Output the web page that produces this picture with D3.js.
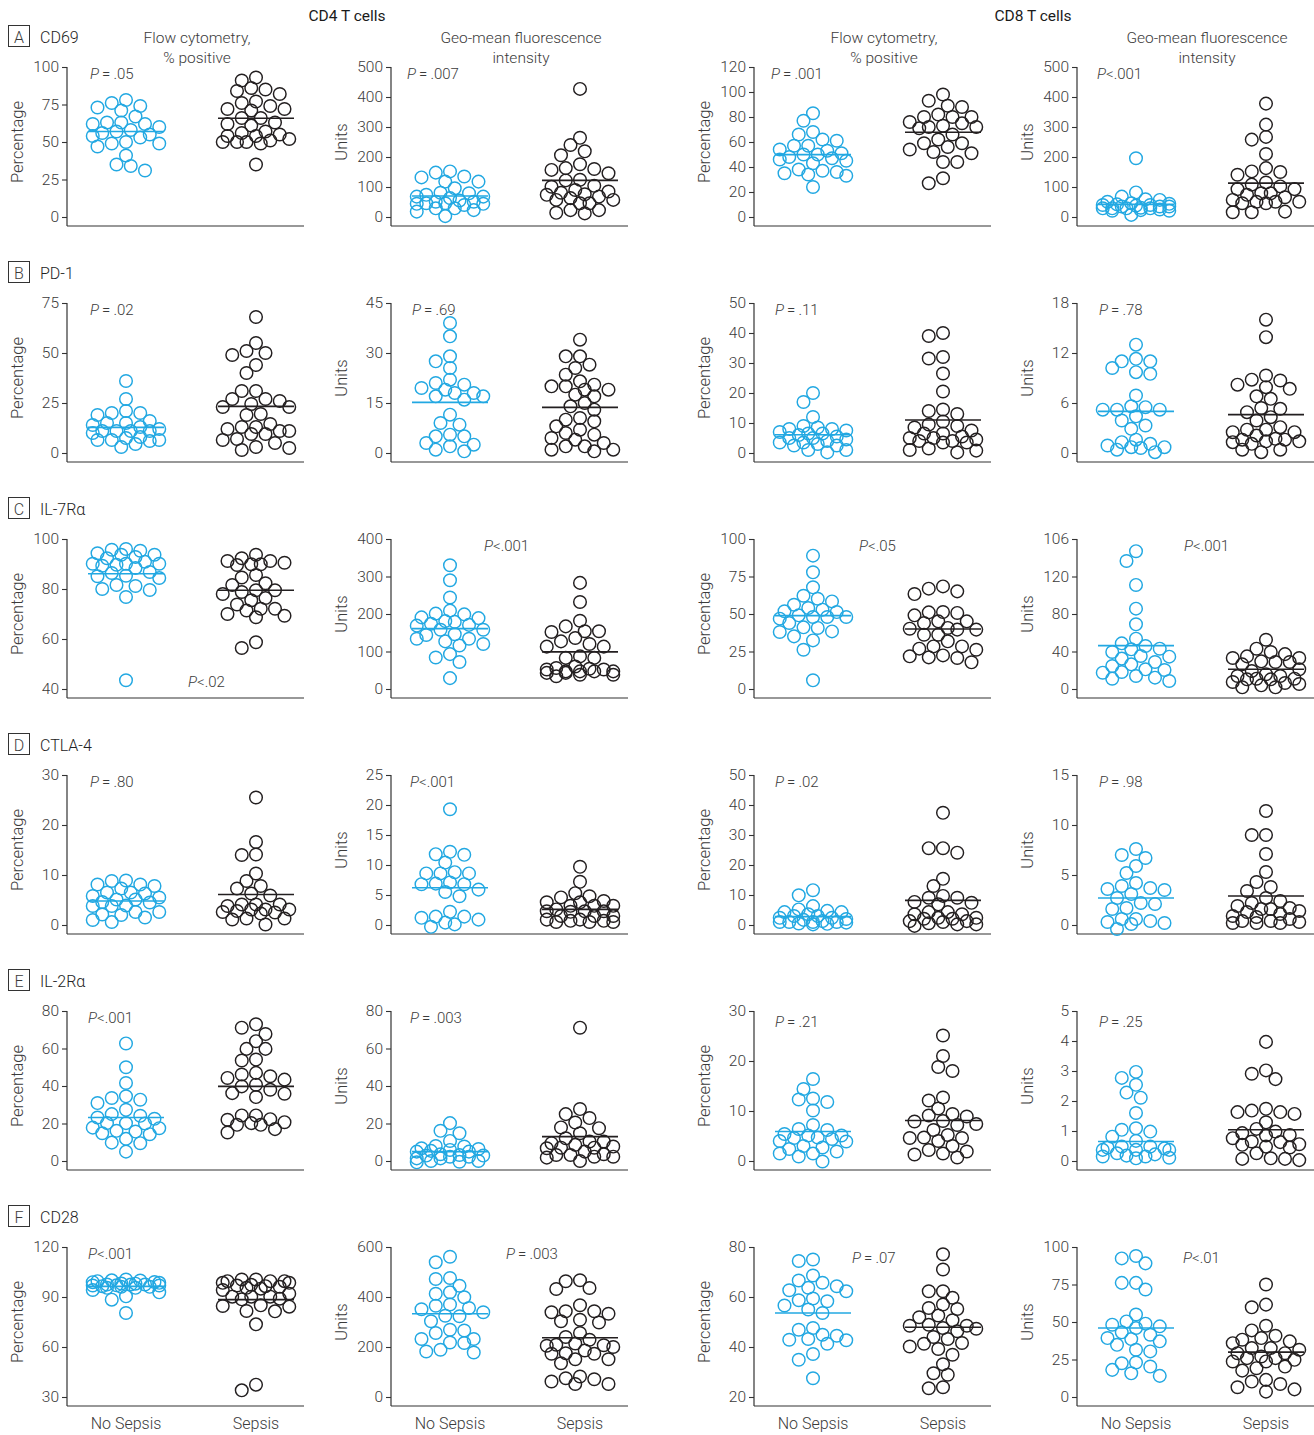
<!DOCTYPE html>
<html>
<head>
<meta charset="utf-8">
<script src="https://cdn.jsdelivr.net/npm/d3@7"></script>
<style>
  html, body { margin: 0; padding: 0; background: #fff; }
  svg { display: block; }
  text { font-family: "Roboto", "Liberation Sans", sans-serif; fill: #3b3b3b; }
</style>
</head>
<body>
<svg id="chart" width="1314" height="1435"></svg>
<script>
// ---- categories and labels ----
const groups = ["No Sepsis", "Sepsis"];
const cellTypes = ["CD4 T cells", "CD8 T cells"];
const measureTitles = [["Flow cytometry,", "% positive"], ["Geo-mean fluorescence", "intensity"]];
const measureUnits = ["Percentage", "Units"];
const markers = ["CD69", "PD-1", "IL-7R\u03b1", "CTLA-4", "IL-2R\u03b1", "CD28"];
const rowLetters = ["A", "B", "C", "D", "E", "F"];

// ---- CD69 ----
const cd69_cd4Pct_noSepsis = [78, 74, 73, 71, 76, 67, 63, 63, 62, 62, 60, 58, 57, 56, 55, 54, 53, 50, 49, 49, 47, 41, 35, 34, 31];
const cd69_cd4Pct_sepsis = [93, 91, 86, 85, 84, 82, 77, 76, 74, 72, 72, 71, 66, 66, 63, 62, 61, 57, 56, 55, 54, 54, 52, 51, 50, 50, 50, 49, 35];
const cd69_cd4Mfi_noSepsis = [152, 148, 135, 132, 118, 118, 96, 81, 79, 74, 68, 68, 63, 55, 51, 51, 46, 46, 44, 44, 40, 29, 29, 23, 18, 3];
const cd69_cd4Mfi_sepsis = [427, 264, 240, 219, 206, 176, 163, 160, 157, 146, 124, 122, 104, 101, 90, 85, 81, 76, 74, 68, 63, 57, 57, 46, 46, 23, 23, 14, 12];
const cd69_cd8Pct_noSepsis = [83, 77, 68, 66, 62, 61, 57, 57, 54, 53, 51, 50, 50, 48, 47, 46, 45, 43, 38, 37, 36, 35, 34, 33, 24];
const cd69_cd8Pct_sepsis = [98, 93, 89, 88, 82, 80, 80, 80, 76, 75, 73, 72, 72, 71, 66, 62, 59, 59, 56, 54, 52, 51, 44, 44, 31, 27];
const cd69_cd8Mfi_noSepsis = [196, 82, 68, 59, 57, 51, 46, 44, 42, 40, 40, 38, 35, 35, 35, 31, 29, 29, 29, 29, 25, 23, 21, 21, 7];
const cd69_cd8Mfi_sepsis = [378, 308, 267, 258, 210, 163, 152, 150, 141, 115, 108, 102, 93, 93, 79, 79, 74, 66, 57, 51, 51, 51, 46, 46, 18, 16, 16];

// ---- PD-1 ----
const pd1_cd4Pct_noSepsis = [36, 27, 21, 20, 20, 19, 16, 15, 15, 14, 13, 12, 11, 11, 11, 11, 10, 8, 7.5, 6.5, 6.5, 6.5, 6, 4.5, 3];
const pd1_cd4Pct_sepsis = [68, 55, 51, 50, 49, 44, 40, 31, 31, 27, 27, 26, 24.5, 23, 23, 19.5, 19, 14.5, 13, 13, 12, 11, 11, 9.5, 9.5, 7, 6.5, 5, 3, 2.5, 1.5];
const pd1_cd4Mfi_noSepsis = [39, 35, 29, 27.5, 25.5, 22, 21, 20.5, 19.5, 19, 18, 18, 17, 17, 16, 11.5, 9, 8.5, 5.5, 5, 5, 3, 2.5, 2, 1, 0.5];
const pd1_cd4Mfi_sepsis = [34, 29, 29, 26.5, 25.5, 23.5, 21.5, 20.5, 20, 20, 19, 19, 17.5, 17, 15, 14, 13, 10.5, 10, 9.5, 8, 7, 6, 5.5, 4.5, 4, 3, 2, 2, 1, 1, 0.5];
const pd1_cd8Pct_noSepsis = [20, 17, 12, 9, 8.5, 8, 8, 7.5, 7, 6.5, 6.5, 6, 5.5, 5, 5, 4.5, 4, 3.5, 3.5, 3, 2.5, 2.5, 1, 1, 0.2];
const pd1_cd8Pct_sepsis = [40, 39, 32, 31.5, 26.5, 20.5, 14.5, 14, 13, 10.5, 9.5, 9, 8.5, 7.5, 6.5, 6.5, 5.5, 5, 5, 4.5, 4, 4, 3.5, 3.5, 1.5, 1, 0.8, 0.2];
const pd1_cd8Mfi_noSepsis = [13, 11.3, 11, 11, 10.2, 9.7, 9.5, 6.9, 5.6, 5.5, 5.2, 5.2, 5.2, 4.4, 3.9, 3.3, 2.9, 1.6, 1.3, 1.1, 0.9, 0.7, 0.7, 0.6, 0.4, 0.1];
const pd1_cd8Mfi_sepsis = [16, 13.9, 9.3, 8.8, 8.7, 8.2, 7.9, 7.7, 6.8, 6.5, 5.4, 5.3, 4.9, 4.3, 3.9, 3.1, 2.8, 2.8, 2.5, 2.5, 2.1, 1.7, 1.6, 1.6, 1.4, 1.4, 1.3, 1.1, 0.4, 0.4, 0.1];

// ---- IL-7Rα ----
const il7r_cd4Pct_noSepsis = [96, 95.7, 95.3, 94.3, 93.7, 93.7, 92.8, 92.3, 90.9, 90.1, 90.1, 90.1, 89.7, 89.3, 88.4, 86.8, 86.4, 85.3, 85.1, 84.4, 81.6, 81.2, 80, 79.6, 76.8, 43.5];
const il7r_cd4Pct_sepsis = [93.7, 92.3, 91.2, 91.2, 90.5, 89.9, 89.9, 89.6, 85.6, 84.6, 82.3, 81.6, 79.5, 79.5, 78.8, 78, 76.4, 75.5, 73.8, 72.1, 72.1, 71.4, 70, 69.3, 68.7, 58.7, 56.4];
const il7r_cd4Mfi_noSepsis = [330, 290, 244, 209, 201, 199, 191, 189, 181, 179, 174, 171, 169, 158, 158, 146, 144, 134, 134, 127, 120, 116, 93, 84, 72, 29];
const il7r_cd4Mfi_sepsis = [283, 232, 182, 167, 154, 154, 152, 136, 127, 120, 113, 113, 87, 83, 83, 60, 56, 54, 52, 52, 47, 47, 47, 47, 43, 43, 38, 38, 34];
const il7r_cd8Pct_noSepsis = [88.9, 77.8, 67.8, 62.2, 60.2, 58.4, 56.2, 54, 52.9, 51.8, 51.3, 49.1, 48, 48, 48, 46.9, 44, 41.1, 40.7, 38.4, 38, 35.1, 32.4, 26.2, 5.8];
const il7r_cd8Pct_sepsis = [68.4, 66.9, 65.1, 63.3, 51.3, 51.1, 50.7, 49.1, 45.1, 45.1, 44, 40.7, 40.2, 39.6, 39.6, 36.2, 36.2, 31.8, 28.4, 28.4, 26.9, 26.2, 22.4, 21.8, 21.1, 20.7, 17.8];
const il7r_cd8Mfi_noSepsis = [147, 136.5, 111, 85.7, 69, 53.7, 48.7, 45.9, 43, 42.3, 39.5, 35.2, 34.5, 32.4, 28.8, 26.3, 24.5, 21, 20.3, 18.1, 17.4, 13.9, 12.1, 11, 8.5];
const il7r_cd8Mfi_sepsis = [52.5, 43, 39.5, 37.2, 34.8, 33.1, 33.1, 29.5, 28.8, 28.8, 26.3, 21, 19.2, 15.7, 13.9, 13.9, 11, 11, 10.3, 10.3, 7.5, 6.4, 5.3, 3.9, 1.8, 1.8];

// ---- CTLA-4 ----
const ctla4_cd4Pct_noSepsis = [8.9, 8.8, 8.1, 8.1, 7.8, 7.3, 6.5, 6.5, 6.3, 5.8, 5.5, 5.1, 5.1, 4.6, 4.5, 3.9, 3.8, 3.8, 2.6, 2.6, 2.1, 2, 1.5, 1, 0.6];
const ctla4_cd4Pct_sepsis = [25.5, 16.6, 14.1, 14, 10.3, 8.8, 7.8, 7.3, 6.3, 5.9, 4.1, 4.1, 4.1, 3.8, 3.1, 3.1, 3.1, 2.8, 2.6, 2.5, 2.3, 1.3, 1.3, 1.1, 0.1];
const ctla4_cd4Mfi_noSepsis = [19.3, 12.2, 11.8, 11.7, 10.4, 8.8, 8.6, 8.6, 8.6, 7.1, 6.9, 6.8, 6.8, 5.9, 5.5, 4.8, 2.2, 1.4, 1.4, 1.2, 0.9, 0.4, 0.1, -0.3];
const ctla4_cd4Mfi_sepsis = [9.7, 7.2, 5.3, 4.8, 4.6, 4, 3.8, 3.8, 3.2, 3.2, 3.2, 2.6, 2.3, 2.3, 2.3, 2.2, 1.5, 1.5, 1.5, 0.9, 0.9, 0.7, 0.7, 0.5, 0.5, 0.5];
const ctla4_cd8Pct_noSepsis = [11.6, 9.9, 6.3, 5.2, 4.7, 4.3, 4.3, 3.6, 3, 3, 2.4, 2.4, 2, 1.7, 1.3, 1, 1, 1, 1, 0.8, 0.5, 0.4, 0.2];
const ctla4_cd8Pct_sepsis = [37.4, 25.6, 25.6, 24.1, 15.4, 13, 9.7, 9.1, 9.1, 7.7, 7.4, 6.9, 4.3, 4.3, 3.6, 3.6, 2.4, 2.4, 2.1, 2.1, 1.3, 1.3, 1, 0.6, 0.2, 0.2, -0.3];
const ctla4_cd8Mfi_noSepsis = [7.6, 7, 6.7, 5.9, 5.2, 4.2, 3.9, 3.7, 3.6, 3.5, 3.1, 2.7, 2.2, 2.1, 1.7, 1.6, 0.6, 0.6, 0.4, 0.3, 0.2, 0.1, -0.4];
const ctla4_cd8Mfi_sepsis = [11.4, 9, 9, 7.1, 5.3, 4.3, 3.8, 3.4, 2.7, 2.4, 2.2, 1.9, 1.7, 1.6, 1.6, 1.4, 1.3, 1.1, 0.9, 0.8, 0.6, 0.4, 0.4, 0.3, 0.2, 0.2, 0.2];

// ---- IL-2Rα ----
const il2r_cd4Pct_noSepsis = [62.7, 50, 41.6, 34.5, 33.6, 32.7, 30.9, 27.3, 25, 24.1, 23.2, 22.5, 20.2, 20.2, 20, 17.8, 17.5, 16.1, 15.7, 14.8, 14.3, 11.8, 9.8, 9.5, 5];
const il2r_cd4Pct_sepsis = [72.9, 71.1, 67.7, 63.9, 59.8, 59.8, 54.1, 53.6, 47, 46.1, 45.2, 44.3, 43.4, 40.7, 39.8, 38, 36.2, 35.9, 34.1, 24.3, 24.3, 22.3, 22, 20.7, 20.2, 19.3, 19.3, 17, 15.2];
const il2r_cd4Mfi_noSepsis = [20.2, 16.1, 14.8, 10.7, 8, 7.7, 6.8, 6.4, 5.9, 5.4, 5, 5, 3.6, 3.2, 2.9, 2.9, 2.3, 2.3, 1.4, 1.4, 0, 0, -0.4, -0.7];
const il2r_cd4Mfi_sepsis = [71.1, 27.7, 25, 22.9, 20.5, 17.9, 17.5, 14.8, 12.1, 10.4, 10.4, 9.5, 8.6, 7.7, 7.1, 7.1, 6.8, 5, 3.6, 3.2, 3.2, 2.3, 2.3, 1.8, 0];
const il2r_cd8Pct_noSepsis = [16.4, 14.4, 12.5, 12.3, 11.8, 10.1, 7.2, 6.4, 6.2, 5.4, 5.1, 5.1, 4.7, 4.6, 4.4, 4, 3.9, 3, 2.7, 2.4, 1.9, 1.5, 1.5, 0.9, -0.1];
const il2r_cd8Pct_sepsis = [25.1, 21, 18.8, 18, 12.7, 12.1, 10.5, 9.4, 9.1, 8.9, 8, 7.9, 7.4, 7.2, 6.2, 5.2, 4.7, 4.6, 4.6, 4, 3, 2.2, 1.9, 1.5, 1.3, 0.7];
const il2r_cd8Mfi_noSepsis = [2.97, 2.77, 2.54, 2.28, 2.11, 1.6, 1.09, 1.04, 0.98, 0.81, 0.67, 0.48, 0.48, 0.45, 0.42, 0.37, 0.37, 0.37, 0.26, 0.22, 0.18, 0.15, 0.15, 0.11, 0.09];
const il2r_cd8Mfi_sepsis = [3.97, 3.02, 2.91, 2.73, 1.74, 1.68, 1.63, 1.63, 1.57, 1.29, 1.07, 0.98, 0.93, 0.87, 0.85, 0.76, 0.65, 0.63, 0.56, 0.54, 0.48, 0.45, 0.26, 0.09, 0.07, 0.07, 0.03];

// ---- CD28 ----
const cd28_cd4Pct_noSepsis = [100.5, 100, 99.9, 99.5, 99, 98.9, 98.5, 98.1, 98, 97.5, 97.5, 97.5, 97, 96.9, 96.9, 96.5, 96.1, 96.1, 95.5, 95.5, 94.2, 92.8, 90.4, 88.4, 80.4];
const cd28_cd4Pct_sepsis = [100.5, 100.5, 99.5, 99.5, 99.5, 98.5, 98.5, 97.3, 96.9, 96.5, 96.1, 95.5, 95, 94.2, 92, 90.2, 90.2, 90.2, 89, 88.6, 85, 84.6, 84.2, 81.6, 81.4, 73.6, 37.4, 34];
const cd28_cd4Mfi_noSepsis = [561, 539, 476, 472, 445, 419, 413, 399, 370, 365, 356, 351, 339, 325, 323, 303, 269, 266, 256, 232, 232, 218, 216, 189, 182, 178];
const cd28_cd4Mfi_sepsis = [467, 463, 436, 432, 367, 343, 343, 339, 333, 309, 303, 298, 256, 240, 229, 214, 209, 207, 205, 200, 186, 175, 173, 173, 151, 151, 135, 82, 75, 71, 62, 52, 52];
const cd28_cd8Pct_noSepsis = [75, 74.4, 68.6, 66.6, 65.7, 64.3, 63.7, 62.7, 62.3, 59.4, 58.7, 58.3, 56.6, 55, 53.6, 47.6, 46.9, 44.9, 44.5, 43.2, 42.9, 42.7, 41.3, 37.2, 34.9, 27.5];
const cd28_cd8Pct_sepsis = [77.1, 71, 62.3, 62.3, 59.7, 57, 55.6, 55.2, 52.6, 51.9, 50.7, 48.9, 48.5, 48.5, 47.6, 47.3, 46.3, 44, 43.2, 41.6, 41.3, 40.2, 39.2, 36.9, 33.1, 29.5, 28.9, 23.9, 23.5];
const cd28_cd8Mfi_noSepsis = [94, 92.4, 89.1, 76.1, 76.1, 71.7, 55, 50.4, 48.9, 48.2, 47.1, 46, 43.1, 41.5, 39.3, 38.6, 37.1, 34.8, 31.5, 30.4, 23, 22.5, 20.3, 18.1, 15.8, 14.1];
const cd28_cd8Mfi_sepsis = [75, 61.6, 59.8, 47.5, 44.4, 40.8, 39.3, 38.2, 37.1, 35.9, 32.6, 32.6, 31.5, 29.2, 29.2, 27, 25.9, 25.9, 24.8, 23.7, 23.7, 20.3, 19.2, 17.6, 11.4, 10.3, 8.7, 6.5, 5.1, 3.6];

// ---- group summary lines (rows: markers; columns: CD4 %, CD4 MFI, CD8 %, CD8 MFI) ----
const summaryNoSepsis = [
  [57, 70, 49.9, 42],
  [12.8, 15.2, 6.1, 5],
  [86.1, 161, 48.9, 46.3],
  [4.8, 6.2, 2.8, 2.7],
  [23.2, 5, 5.9, 0.65],
  [96.4, 333, 53.6, 46]
];
const summarySepsis = [
  [65.8, 122, 67.8, 113],
  [23.3, 13.7, 11, 4.6],
  [79.5, 99, 40, 21],
  [6.1, 2.6, 8.2, 2.9],
  [39.8, 13, 8.1, 1.04],
  [88.4, 237, 47.9, 29.9]
];

// ---- P values (text after the italic P) ----
const pValues = [
  ["\u2009=\u2009.05", "\u2009=\u2009.007", "\u2009=\u2009.001", "<.001"],
  ["\u2009=\u2009.02", "\u2009=\u2009.69", "\u2009=\u2009.11", "\u2009=\u2009.78"],
  ["<.02", "<.001", "<.05", "<.001"],
  ["\u2009=\u2009.80", "<.001", "\u2009=\u2009.02", "\u2009=\u2009.98"],
  ["<.001", "\u2009=\u2009.003", "\u2009=\u2009.21", "\u2009=\u2009.25"],
  ["<.001", "\u2009=\u2009.003", "\u2009=\u2009.07", "<.01"]
];

// ---- y-axis tick values ----
const yTicks = [
  [[0, 25, 50, 75, 100], [0, 100, 200, 300, 400, 500], [0, 20, 40, 60, 80, 100, 120], [0, 100, 200, 300, 400, 500]],
  [[0, 25, 50, 75], [0, 15, 30, 45], [0, 10, 20, 30, 40, 50], [0, 6, 12, 18]],
  [[40, 60, 80, 100], [0, 100, 200, 300, 400], [0, 25, 50, 75, 100], [0, 40, 80, 120, 160]],
  [[0, 10, 20, 30], [0, 5, 10, 15, 20, 25], [0, 10, 20, 30, 40, 50], [0, 5, 10, 15]],
  [[0, 20, 40, 60, 80], [0, 20, 40, 60, 80], [0, 10, 20, 30], [0, 1, 2, 3, 4, 5]],
  [[30, 60, 90, 120], [0, 200, 400, 600], [20, 40, 60, 80], [0, 25, 50, 75, 100]]
];
// the IL-7Rα CD8 MFI axis carries its top label as printed
const il7rCd8MfiTickLabels = ["0", "40", "80", "120", "106"];

const dataSets = [
  [[cd69_cd4Pct_noSepsis, cd69_cd4Pct_sepsis], [cd69_cd4Mfi_noSepsis, cd69_cd4Mfi_sepsis], [cd69_cd8Pct_noSepsis, cd69_cd8Pct_sepsis], [cd69_cd8Mfi_noSepsis, cd69_cd8Mfi_sepsis]],
  [[pd1_cd4Pct_noSepsis, pd1_cd4Pct_sepsis], [pd1_cd4Mfi_noSepsis, pd1_cd4Mfi_sepsis], [pd1_cd8Pct_noSepsis, pd1_cd8Pct_sepsis], [pd1_cd8Mfi_noSepsis, pd1_cd8Mfi_sepsis]],
  [[il7r_cd4Pct_noSepsis, il7r_cd4Pct_sepsis], [il7r_cd4Mfi_noSepsis, il7r_cd4Mfi_sepsis], [il7r_cd8Pct_noSepsis, il7r_cd8Pct_sepsis], [il7r_cd8Mfi_noSepsis, il7r_cd8Mfi_sepsis]],
  [[ctla4_cd4Pct_noSepsis, ctla4_cd4Pct_sepsis], [ctla4_cd4Mfi_noSepsis, ctla4_cd4Mfi_sepsis], [ctla4_cd8Pct_noSepsis, ctla4_cd8Pct_sepsis], [ctla4_cd8Mfi_noSepsis, ctla4_cd8Mfi_sepsis]],
  [[il2r_cd4Pct_noSepsis, il2r_cd4Pct_sepsis], [il2r_cd4Mfi_noSepsis, il2r_cd4Mfi_sepsis], [il2r_cd8Pct_noSepsis, il2r_cd8Pct_sepsis], [il2r_cd8Mfi_noSepsis, il2r_cd8Mfi_sepsis]],
  [[cd28_cd4Pct_noSepsis, cd28_cd4Pct_sepsis], [cd28_cd4Mfi_noSepsis, cd28_cd4Mfi_sepsis], [cd28_cd8Pct_noSepsis, cd28_cd8Pct_sepsis], [cd28_cd8Mfi_noSepsis, cd28_cd8Mfi_sepsis]]
];

// ---- layout ----
const colX = [67, 391, 754, 1077];     // y-axis position of each column
const firstTop = 67, rowStep = 236;     // top tick of first row, row pitch
const plotH = 150, baseGap = 9, plotW = 237;
const groupRange = [59, 189];
const dotR = 6.3, lineHalf = 38;
const colors = { "No Sepsis": "#22a8e2", "Sepsis": "#231f20" };
// P-label anchors relative to each plot [dx from axis, dy from top tick]
const pPos = [
  [[23, 7], [16, 7], [17, 7], [20, 7]],
  [[23, 7], [21, 7], [21, 7], [22, 7]],
  [[121, 143], [93, 7], [105, 7], [107, 7]],
  [[23, 7], [19, 7], [21, 7], [22, 7]],
  [[21, 7], [19, 7], [21, 11], [22, 11]],
  [[21, 7], [115, 7], [98, 11], [106, 11]]
];

const svg = d3.select("#chart");

// column headers
svg.selectAll("text.cell-type").data(cellTypes).join("text")
  .attr("class", "cell-type")
  .attr("x", (d, i) => i === 0 ? 347 : 1033)
  .attr("y", 21)
  .attr("text-anchor", "middle")
  .style("font-size", "15.5px").style("fill", "#1a1a1a")
  .text(d => d);

colX.forEach((cx, c) => {
  const lines = measureTitles[c % 2];
  lines.forEach((t, k) => {
    svg.append("text")
      .attr("x", cx + 130).attr("y", 43 + k * 20)
      .attr("text-anchor", "middle")
      .style("font-size", "15.5px").style("font-weight", 300)
      .text(t);
  });
});

// beeswarm-style horizontal spread of values around the group centre
function swarm(values, y) {
  const order = d3.range(values.length).sort((a, b) => values[b] - values[a]);
  const placed = [];
  const out = new Array(values.length);
  const minDist = 11.5;
  const cands = d3.range(-7, 8).map(k => k * 4.75);
  for (const i of order) {
    const py = y(values[i]);
    let best = 0, bestScore = Infinity;
    for (const dx of cands) {
      let s = Math.abs(dx) * 0.02;
      for (const p of placed) {
        const d = Math.hypot(p.dx - dx, p.y - py);
        if (d < minDist) s += (minDist - d);
      }
      if (s < bestScore - 1e-9) { bestScore = s; best = dx; }
    }
    placed.push({ dx: best, y: py });
    out[i] = { v: values[i], dx: best };
  }
  return out;
}

markers.forEach((marker, r) => {
  const top = firstTop + r * rowStep;

  // row header: letter box + marker name
  const hy = top - 30;
  svg.append("rect").attr("x", 8.5).attr("y", hy - 11.5).attr("width", 21).attr("height", 21)
    .attr("fill", "none").attr("stroke", "#333").attr("stroke-width", 1);
  svg.append("text").attr("x", 19).attr("y", hy + 5.5).attr("text-anchor", "middle")
    .style("font-size", "16px").style("font-weight", 300).text(rowLetters[r]);
  svg.append("text").attr("x", 40).attr("y", hy + 5.5)
    .style("font-size", "16px").style("font-weight", 300).style("fill", "#222").text(marker);

  colX.forEach((cx, c) => {
    const ticks = yTicks[r][c];
    const y = d3.scaleLinear().domain([ticks[0], ticks[ticks.length - 1]]).range([plotH, 0]);
    const x = d3.scalePoint().domain(groups).range(groupRange);
    const g = svg.append("g").attr("transform", `translate(${cx},${top})`);

    // y axis
    const labels = (r === 2 && c === 3) ? il7rCd8MfiTickLabels : null;
    const axis = d3.axisLeft(y).tickValues(ticks).tickSize(5).tickPadding(3)
      .tickFormat((d, i) => labels ? labels[i] : d3.format("d")(d));
    const ag = g.append("g").call(axis);
    ag.select(".domain").remove();
    ag.selectAll(".tick line").attr("stroke", "#333").attr("stroke-width", 1.1);
    ag.selectAll(".tick text").style("font-size", "15.5px").style("font-weight", 300)
      .style("fill", "#3b3b3b").attr("font-family", null);
    g.append("line").attr("x1", 0).attr("x2", 0).attr("y1", 0).attr("y2", plotH + baseGap)
      .attr("stroke", "#333").attr("stroke-width", 1.2);
    // x baseline
    g.append("line").attr("x1", 0).attr("x2", plotW).attr("y1", plotH + baseGap).attr("y2", plotH + baseGap)
      .attr("stroke", "#333").attr("stroke-width", 1.2);

    // y label
    g.append("text")
      .attr("transform", `translate(${-50},${plotH / 2}) rotate(-90)`)
      .attr("text-anchor", "middle").attr("dy", "0.35em")
      .style("font-size", "16.5px").style("font-weight", 300)
      .text(measureUnits[c % 2]);

    // points
    groups.forEach((grp, gi) => {
      const pts = swarm(dataSets[r][c][gi], y);
      g.append("g").selectAll("circle").data(pts).join("circle")
        .attr("cx", d => x(grp) + d.dx)
        .attr("cy", d => y(d.v))
        .attr("r", dotR)
        .attr("fill", "none")
        .attr("stroke", colors[grp])
        .attr("stroke-width", 1.45);
      const s = gi === 0 ? summaryNoSepsis[r][c] : summarySepsis[r][c];
      g.append("line")
        .attr("x1", x(grp) - lineHalf).attr("x2", x(grp) + lineHalf)
        .attr("y1", y(s)).attr("y2", y(s))
        .attr("stroke", colors[grp]).attr("stroke-width", 1.6);
    });

    // P value
    const [pdx, pdy] = pPos[r][c];
    const pt = g.append("text").attr("x", pdx).attr("y", pdy).attr("dy", "0.35em")
      .style("font-size", "15px").style("font-weight", 300);
    pt.append("tspan").style("font-style", "italic").text("P");
    pt.append("tspan").text(pValues[r][c]);

    // category labels on the bottom row
    if (r === markers.length - 1) {
      groups.forEach(grp => {
        g.append("text").attr("x", x(grp)).attr("y", plotH + 26).attr("dy", "0.35em")
          .attr("text-anchor", "middle")
          .style("font-size", "16px").style("font-weight", 300)
          .text(grp);
      });
    }
  });
});
</script>
</body>
</html>
